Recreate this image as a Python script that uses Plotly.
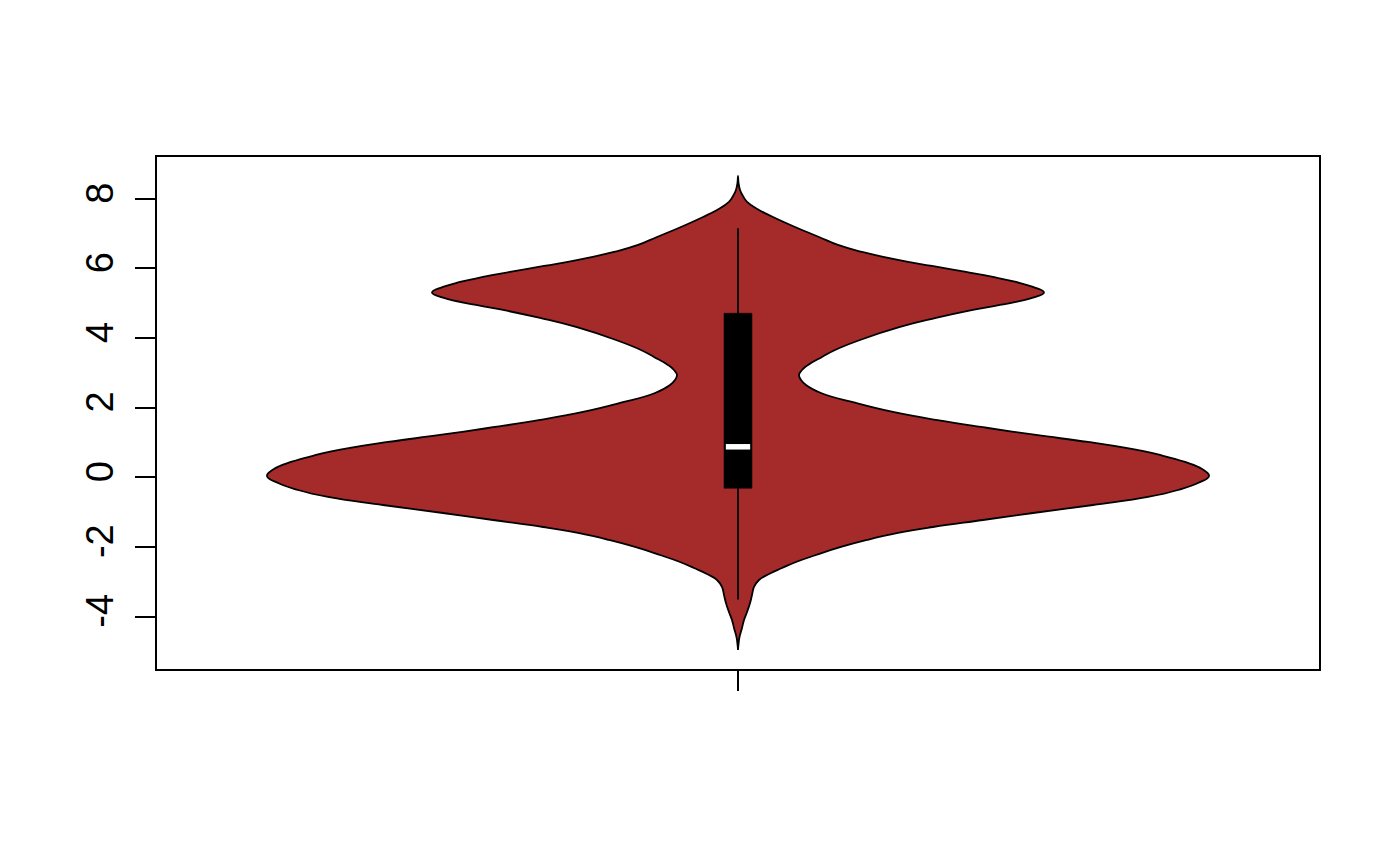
import plotly.graph_objects as go

# Density profile of the violin:
# value on the y-axis and half-width of the violin in x-axis units
dens_y = [8.656, 8.454, 8.253, 8.081, 7.909, 7.679, 7.478, 7.305, 7.104, 6.903,
          6.673, 6.472, 6.243, 6.070, 5.898, 5.754, 5.610, 5.467, 5.309, 5.151,
          4.950, 4.777, 4.576, 4.318, 3.944, 3.657, 3.456, 3.226, 3.082, 2.939, 2.795, 2.652,
          2.422, 2.134, 1.876, 1.646, 1.416, 1.215, 1.014, 0.842, 0.641, 0.440,
          0.238, 0.037, -0.164, -0.365, -0.566, -0.796, -1.026, -1.227, -1.428, -1.600,
          -1.801, -2.002, -2.232, -2.433, -2.606, -2.778, -2.950, -3.151, -3.381, -3.611,
          -3.870, -4.099, -4.329, -4.588, -4.789, -4.961]
dens_hw = [0.0, 0.0005, 0.0019, 0.0046, 0.0084, 0.0195, 0.0325, 0.0446, 0.0595, 0.0753,
           0.0929, 0.1153, 0.1487, 0.1803, 0.2119, 0.2370, 0.2584, 0.2742, 0.2844, 0.2733,
           0.2435, 0.2138, 0.1840, 0.1506, 0.1134, 0.0902, 0.0781, 0.0651, 0.0595, 0.0567, 0.0586, 0.0632,
           0.0771, 0.1097, 0.1441, 0.1840, 0.2324, 0.2770, 0.3253, 0.3606, 0.3922, 0.4155,
           0.4313, 0.4378, 0.4275, 0.4090, 0.3811, 0.3300, 0.2742, 0.2277, 0.1812, 0.1487,
           0.1199, 0.0957, 0.0725, 0.0539, 0.0409, 0.0288, 0.0195, 0.0149, 0.0130, 0.0112,
           0.0084, 0.0056, 0.0037, 0.0014, 0.0005, 0.0]

# Box-plot summary
center = 1.0
whisker_lo, whisker_hi = -3.51, 7.15
q1, q3 = -0.316, 4.71
median = 0.876
box_hw = 0.013
median_hw = 0.0113

ytick_vals = [-4, -2, 0, 2, 4, 6, 8]
ytick_text = ["-4", "-2", "0", "2", "4", "6", "8"]

xs = [center + h for h in dens_hw] + [center - h for h in reversed(dens_hw)]
ys = dens_y + list(reversed(dens_y))

fig = go.Figure()
fig.add_trace(go.Scatter(
    x=xs, y=ys, mode="lines", fill="toself", fillcolor="#A52A2A",
    line=dict(color="black", width=1.8, shape="spline", smoothing=1.3),
    hoverinfo="skip", showlegend=False))

fig.add_shape(type="line", xref="x", yref="y", x0=center, x1=center,
              y0=whisker_lo, y1=whisker_hi, line=dict(color="black", width=1.8), layer="above")
fig.add_shape(type="rect", xref="x", yref="y", x0=center - box_hw, x1=center + box_hw,
              y0=q1, y1=q3, fillcolor="black", line=dict(color="black", width=0.5), layer="above")
fig.add_shape(type="line", xref="x", yref="y", x0=center - median_hw, x1=center + median_hw,
              y0=median, y1=median, line=dict(color="white", width=5.5), layer="above")

fig.update_layout(
    width=1400, height=866,
    margin=dict(l=149, r=89, t=149, b=205),
    paper_bgcolor="white", plot_bgcolor="white",
    font=dict(family="Liberation Sans, Arial, sans-serif", size=38, color="black"),
    showlegend=False,
    xaxis=dict(range=[0.46, 1.54], tickvals=[center], ticktext=[""], ticks="outside",
               ticklen=20, tickwidth=1.5, tickcolor="black", showgrid=False, zeroline=False,
               showline=True, mirror=True, linecolor="black", linewidth=1.5, fixedrange=True),
    yaxis=dict(range=[-5.507, 9.20], tickvals=ytick_vals, ticktext=ytick_text,
               tickangle=-90, ticks="outside", ticklen=20, tickwidth=1.5, tickcolor="black",
               showgrid=False, zeroline=False, showline=True, mirror=True,
               linecolor="black", linewidth=1.5, ticklabelstandoff=7, fixedrange=True),
)

fig.write_html("out.html")
